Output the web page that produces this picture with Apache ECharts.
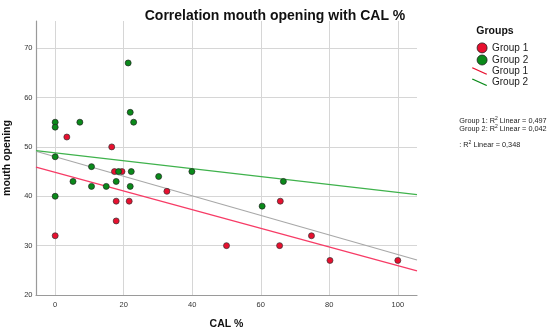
<!DOCTYPE html>
<html><head><meta charset="utf-8">
<script src="https://cdn.jsdelivr.net/npm/echarts@6/dist/echarts.min.js"></script>
<style>html,body{margin:0;padding:0;background:#fff}#c{width:550px;height:333px}</style>
</head><body><div id="c"></div>
<script>
// ---- data ----
const group1X = [3.4, 16.5, 17.3, 19.5, 32.6, 17.8, 21.6, 17.8, 0, 50, 65.7, 74.8, 65.5, 80.2, 100];
const group1Y = [52, 50, 45, 45, 41, 39, 39, 35, 32, 30, 39, 32, 30, 27, 27];
const group2X = [21.3, 21.9, 22.9, 0, 0, 7.2, 0, 10.6, 18.5, 22.2, 30.2, 39.9, 5.2, 17.8, 10.6, 14.9, 21.9, 0, 66.6, 60.4];
const group2Y = [67, 57, 55, 55, 54, 55, 48, 46, 45, 45, 44, 45, 43, 43, 42, 42, 42, 40, 43, 38];
// fit lines (intercept, slope)
const fitGroup1 = [44.84, -0.189];
const fitGroup2 = [48.8, -0.0802];
const fitTotal = [48.0, -0.198];
const r2Labels = ['Group 1: ', 'Group 2: ', ': '];
const r2Values = ['0,497', '0,042', '0,348'];
const xTicks = [0, 20, 40, 60, 80, 100];
const yTicks = [20, 30, 40, 50, 60, 70];
const xRange = [-5.6, 105.6];
const yRange = [20, 75.5];

const FONT = "'Liberation Sans', Arial, sans-serif";
const RED = '#e8102f', GREEN = '#0a8a1a';
const RED_LINE = '#f73b66', GREEN_LINE = '#3fb24c', GRAY_LINE = '#a8a8a8';

function pts(xs, ys) { return xs.map((x, i) => [x, ys[i]]); }
function fitLine(f) { return xRange.map(x => [x, f[0] + f[1] * x]); }

const chart = echarts.init(document.getElementById('c'), null, {renderer: 'canvas'});
chart.setOption({
  animation: false,
  backgroundColor: '#fff',
  textStyle: {fontFamily: FONT},
  title: {
    text: 'Correlation mouth opening with CAL %',
    left: 'center', top: 4,
    textStyle: {fontFamily: FONT, fontSize: 14, fontWeight: 'bold', color: '#111'}
  },
  grid: {left: 36, right: 133, top: 21, bottom: 38, containLabel: false, outerBoundsMode: 'none'},
  xAxis: {
    type: 'value', min: xRange[0], max: xRange[1],
    name: 'CAL %', nameLocation: 'middle', nameGap: 24,
    nameTextStyle: {fontFamily: FONT, fontSize: 10.5, fontWeight: 'bold', color: '#111'},
    axisLine: {show: true, onZero: false, lineStyle: {color: '#9a9a9a', width: 1.2}},
    axisTick: {show: false},
    splitLine: {show: false},
    axisLabel: {customValues: xTicks, fontSize: 7.5, color: '#333', margin: 6, fontFamily: FONT}
  },
  yAxis: {
    type: 'value', min: yRange[0], max: yRange[1],
    name: 'mouth opening', nameLocation: 'middle', nameGap: 23,
    nameTextStyle: {fontFamily: FONT, fontSize: 10.5, fontWeight: 'bold', color: '#111'},
    axisLine: {show: true, onZero: false, lineStyle: {color: '#9a9a9a', width: 1.2}},
    axisTick: {show: false},
    splitLine: {show: false},
    axisLabel: {customValues: yTicks, fontSize: 7.5, color: '#333', margin: 3.5, fontFamily: FONT}
  },
  legend: [
    {
      orient: 'vertical', left: 471.7, top: 37.5, itemWidth: 10, itemHeight: 10, itemGap: 1.3,
      data: [{name: 'Group 1', icon: 'circle'}, {name: 'Group 2', icon: 'circle'}],
      itemStyle: {borderColor: '#222', borderWidth: 0.8},
      textStyle: {fontFamily: FONT, fontSize: 10, color: '#222'},
      selectedMode: false
    },
    {
      orient: 'vertical', left: 467, top: 61, itemWidth: 15, itemHeight: 7, itemGap: 1.3,
      data: [{name: 'Group 1', icon: 'path://M0,0 L1.2,0 L15,6.2 L15,7 L13.8,7 L0,0.8 Z'},
             {name: 'Group 2', icon: 'path://M0,0 L1.2,0 L15,6.2 L15,7 L13.8,7 L0,0.8 Z'}],
      itemStyle: {borderWidth: 0, color: 'inherit'},
      textStyle: {fontFamily: FONT, fontSize: 10, color: '#222'},
      selectedMode: false
    }
  ],
  graphic: [
    {type: 'text', x: 495, y: 31.5, silent: true,
     style: {text: 'Groups', font: "bold 10.5px " + FONT, fill: '#111', align: 'center', verticalAlign: 'middle'}},
    ...r2Labels.map((lab, i) => ({
      type: 'text', x: 459.3, y: [120.5, 129, 145][i], silent: true,
      style: {
        text: '{a|' + lab + 'R}{s|2}{a| Linear = ' + r2Values[i] + '}',
        verticalAlign: 'middle', align: 'left',
        rich: {
          a: {fontFamily: FONT, fontSize: 7.3, fill: '#222'},
          s: {fontFamily: FONT, fontSize: 5, fill: '#222', verticalAlign: 'top', padding: [0, 0, 4, 0]}
        }
      }
    }))
  ],
  series: [
    {
      type: 'line', name: 'grid', data: [], silent: true, z: 0,
      markLine: {
        silent: true, symbol: 'none', z: 0, animation: false,
        label: {show: false},
        lineStyle: {color: '#d6d6d6', width: 1, type: 'solid'},
        emphasis: {disabled: true},
        data: xTicks.map(v => ({xAxis: v})).concat(yTicks.filter(v => v > yRange[0]).map(v => ({yAxis: v})))
      }
    },
    {type: 'line', name: 'Total', data: fitLine(fitTotal), showSymbol: false, symbol: 'none', z: 2,
     lineStyle: {color: GRAY_LINE, width: 1.2}, itemStyle: {color: GRAY_LINE}, silent: true},
    {type: 'scatter', name: 'Group 1', data: pts(group1X, group1Y), symbolSize: 6, z: 4,
     itemStyle: {color: RED, borderColor: '#333', borderWidth: 0.7, opacity: 1}},
    {type: 'scatter', name: 'Group 2', data: pts(group2X, group2Y), symbolSize: 6, z: 4,
     itemStyle: {color: GREEN, borderColor: '#222', borderWidth: 0.7, opacity: 1}},
    {type: 'line', name: 'Group 1', data: fitLine(fitGroup1), showSymbol: false, symbol: 'none', z: 3,
     lineStyle: {color: RED_LINE, width: 1.2}, itemStyle: {color: RED_LINE}, silent: true},
    {type: 'line', name: 'Group 2', data: fitLine(fitGroup2), showSymbol: false, symbol: 'none', z: 3,
     lineStyle: {color: GREEN_LINE, width: 1.2}, itemStyle: {color: GREEN_LINE}, silent: true}
  ]
});
</script>
</body></html>
